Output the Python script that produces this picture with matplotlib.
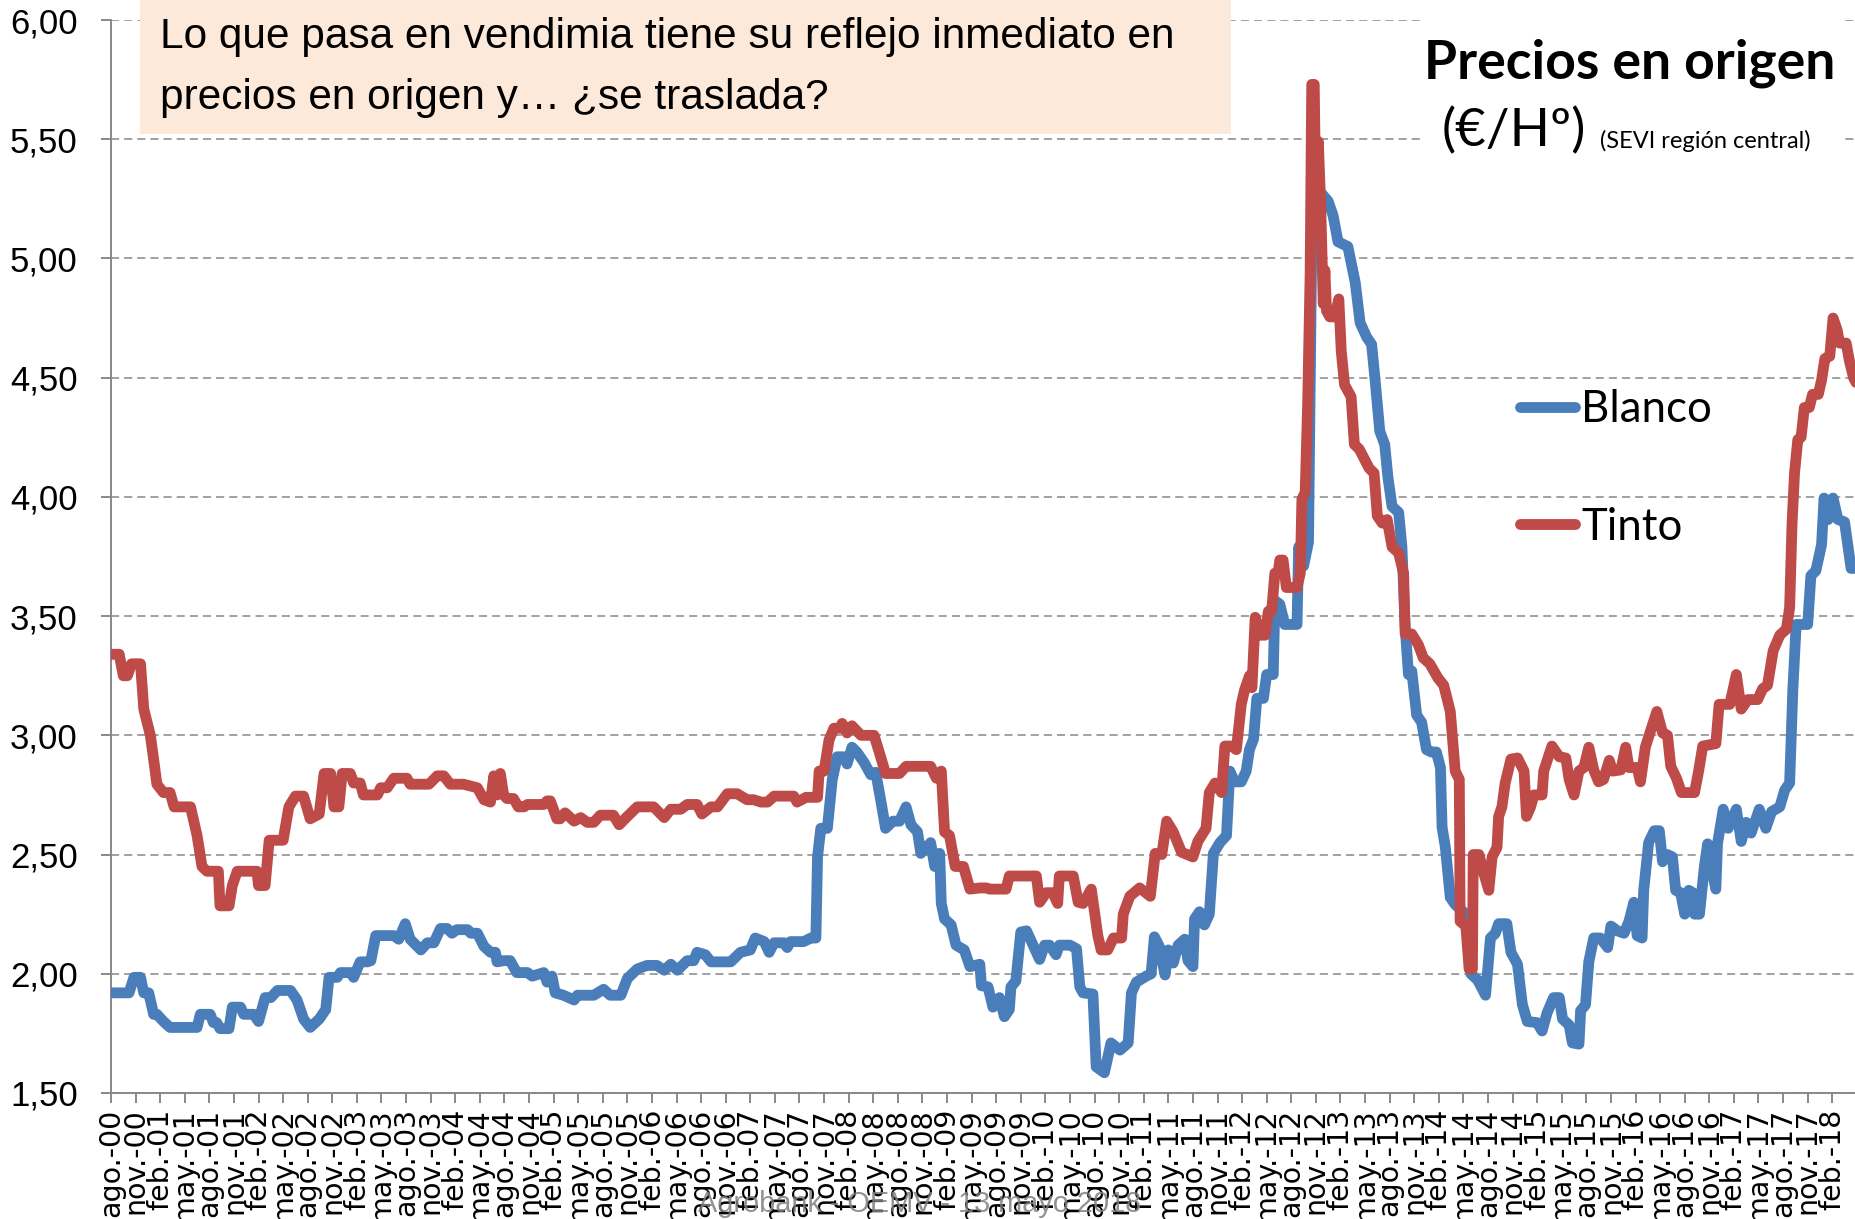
import matplotlib

matplotlib.use("Agg")
import matplotlib.pyplot as plt
from matplotlib.patches import Rectangle
from matplotlib.ticker import FuncFormatter

# --------------------------------------------------------------------------
# Datos: meses transcurridos desde ago-2000 y precio en origen (EUR/Hº)
# --------------------------------------------------------------------------
blanco_mes = [
    0, 2.2, 2.8, 3.6, 4, 4.6, 5.2, 5.6, 6.4, 7.2, 10.5, 10.9, 12.1, 12.5, 12.9,
    13.3, 14.4, 14.8, 15.8, 16.2, 17.4, 18, 18.8, 19.5, 20.3, 21.9, 22.7, 23.5,
    24.3, 25.4, 26.2, 26.6, 27.6, 28, 29.2, 29.6, 30.4, 31.3, 31.7, 32.3, 34.5,
    35.1, 35.9, 36.5, 37.8, 38.6, 39.4, 40.2, 41, 41.6, 42.2, 43.5, 43.9, 44.7,
    45.5, 46.3, 46.9, 47.1, 47.9, 48.7, 49.5, 50.8, 51.4, 52.8, 53.2, 53.8,
    54.2, 55.2, 56.5, 56.9, 58.9, 60.1, 60.9, 62.2, 63, 64.2, 65.4, 66.6, 67.5,
    68.3, 69.1, 70.3, 71.1, 71.5, 72.5, 73.2, 75.6, 76.8, 78, 78.6, 79.7, 80.3,
    80.9, 82.1, 82.5, 82.9, 84.5, 85.4, 86, 86.2, 86.6, 87.4, 88, 88.6, 89.4,
    89.8, 90.4, 91, 91.9, 92.7, 93.3, 93.9, 94.5, 95.4, 96.2, 97, 97.6, 98.4,
    98.8, 99.5, 100, 100.5, 101.1, 101.3, 101.7, 102.5, 103.1, 104.1, 104.8,
    106, 106.2, 107, 107.6, 108.4, 109, 109.6, 109.8, 110.4, 111, 111.7, 112.3,
    113.3, 113.9, 114.5, 115.3, 115.7, 117, 117.8, 118.2, 118.6, 119.8, 120.2,
    121.2, 122, 123.1, 124.1, 124.5, 125.1, 126.3, 126.9, 127.3, 127.9, 128.6,
    129, 129.6, 130.2, 131, 131.4, 132, 132.2, 132.8, 133.4, 134, 134.5, 135.3,
    136.1, 136.5, 137.1, 137.9, 138.5, 138.9, 139.4, 139.8, 140.6, 141, 141.8,
    142, 142.6, 143.2, 144.7, 144.9, 145.5, 146.1, 146.5, 146.9, 147.5, 148.5,
    149.1, 149.7, 150.9, 151.8, 152.4, 153.2, 153.8, 154.2, 154.8, 155.4,
    155.8, 156.3, 157.1, 157.5, 157.9, 158.3, 158.7, 159.3, 159.9, 160.5,
    161.1, 161.7, 162.2, 162.4, 162.8, 163.4, 164, 165.3, 165.9, 166.7, 167.1,
    167.7, 168.3, 168.9, 169.3, 170.3, 170.8, 171.6, 172.2, 172.8, 174, 174.6,
    175.2, 176, 176.7, 177.1, 177.9, 178.3, 179.1, 179.3, 179.9, 180.3, 180.9,
    181.7, 182.6, 183, 183.8, 184.6, 185.2, 185.8, 186.2, 186.8, 187, 187.6,
    188.3, 188.9, 189.3, 189.9, 190.5, 190.9, 191.5, 192, 192.5, 193, 193.2,
    193.8, 194.4, 194.8, 195.2, 195.8, 196, 196.7, 197.3, 198.3, 198.9, 199.5,
    200.1, 201.1, 201.9, 202.6, 203.6, 204.2, 204.8, 205.2, 205.6, 207, 207.4,
    208, 208.7, 209, 209.5, 210.1, 210.7, 211.5, 212.3, 212.9,
]
blanco_precio = [
    1.92, 1.92, 1.985, 1.985, 1.92, 1.92, 1.83, 1.83, 1.80, 1.775, 1.775, 1.83,
    1.83, 1.795, 1.795, 1.77, 1.77, 1.86, 1.86, 1.83, 1.83, 1.80, 1.90, 1.90,
    1.93, 1.93, 1.89, 1.81, 1.775, 1.81, 1.85, 1.985, 1.985, 2.005, 2.005,
    1.985, 2.05, 2.05, 2.055, 2.16, 2.16, 2.145, 2.21, 2.145, 2.10, 2.13, 2.13,
    2.19, 2.19, 2.17, 2.185, 2.185, 2.17, 2.17, 2.115, 2.09, 2.09, 2.05, 2.055,
    2.055, 2.005, 2.005, 1.99, 2.005, 1.965, 1.99, 1.92, 1.91, 1.89, 1.91,
    1.91, 1.935, 1.91, 1.91, 1.98, 2.02, 2.035, 2.035, 2.015, 2.04, 2.015,
    2.055, 2.055, 2.09, 2.08, 2.05, 2.05, 2.09, 2.10, 2.15, 2.135, 2.09, 2.13,
    2.13, 2.11, 2.135, 2.135, 2.15, 2.15, 2.49, 2.61, 2.61, 2.815, 2.91, 2.91,
    2.88, 2.95, 2.93, 2.885, 2.835, 2.845, 2.73, 2.61, 2.64, 2.64, 2.70, 2.625,
    2.595, 2.505, 2.53, 2.55, 2.45, 2.505, 2.295, 2.23, 2.205, 2.12, 2.10,
    2.03, 2.04, 1.95, 1.945, 1.86, 1.90, 1.82, 1.85, 1.945, 1.97, 2.175, 2.18,
    2.135, 2.06, 2.12, 2.12, 2.08, 2.12, 2.12, 2.105, 1.945, 1.92, 1.915, 1.61,
    1.585, 1.71, 1.68, 1.71, 1.92, 1.965, 1.99, 2.00, 2.155, 2.115, 1.995,
    2.10, 2.045, 2.12, 2.145, 2.055, 2.03, 2.23, 2.26, 2.205, 2.25, 2.505,
    2.55, 2.58, 2.85, 2.805, 2.805, 2.85, 2.94, 2.985, 3.155, 3.155, 3.255,
    3.255, 3.565, 3.55, 3.465, 3.465, 3.79, 3.71, 3.81, 5.07, 5.21, 5.28, 5.24,
    5.18, 5.07, 5.05, 4.90, 4.73, 4.67, 4.64, 4.50, 4.275, 4.22, 4.08, 3.96,
    3.935, 3.79, 3.45, 3.255, 3.27, 3.085, 3.055, 2.94, 2.93, 2.93, 2.865,
    2.615, 2.53, 2.32, 2.29, 2.25, 2.00, 1.975, 1.95, 1.91, 2.15, 2.17, 2.21,
    2.21, 2.09, 2.04, 1.87, 1.80, 1.795, 1.76, 1.835, 1.90, 1.90, 1.81, 1.785,
    1.71, 1.705, 1.845, 1.87, 2.05, 2.15, 2.15, 2.11, 2.20, 2.18, 2.17, 2.22,
    2.30, 2.16, 2.15, 2.35, 2.55, 2.60, 2.60, 2.47, 2.50, 2.49, 2.35, 2.34,
    2.25, 2.35, 2.34, 2.25, 2.25, 2.45, 2.545, 2.455, 2.355, 2.545, 2.69, 2.61,
    2.69, 2.555, 2.635, 2.59, 2.69, 2.61, 2.68, 2.70, 2.77, 2.80, 3.195, 3.465,
    3.465, 3.67, 3.69, 3.80, 3.995, 3.905, 3.995, 3.905, 3.895, 3.70, 3.70,
]

tinto_mes = [
    0, 1, 1.5, 2, 2.5, 3.6, 4, 4.8, 5.2, 5.6, 6.4, 7.2, 7.7, 9.7, 10.5, 11.1,
    11.7, 13.1, 13.3, 14.4, 14.8, 15.4, 17.8, 18, 18.8, 19.3, 21, 21.7, 22.5,
    23.5, 24.3, 25.4, 26, 26.8, 27.2, 27.8, 28.2, 29.2, 29.6, 30.4, 30.8, 32.5,
    32.9, 33.7, 34.5, 36.1, 36.5, 38.8, 39.8, 40.6, 41.4, 43, 44.7, 45.5, 46.3,
    46.7, 47.1, 47.5, 47.9, 48.3, 49.1, 49.7, 50.4, 50.8, 52.8, 53.2, 53.6,
    54.4, 54.8, 55.4, 56.5, 57.3, 58.1, 58.9, 59.7, 61.3, 62, 63, 64.2, 66.2,
    67.5, 68.3, 69.5, 70.3, 71.5, 72.1, 73.2, 74, 75.2, 76.4, 77.6, 78.4, 79.3,
    80.1, 80.9, 83.3, 83.7, 84.8, 86.2, 86.4, 87, 87.6, 88.2, 89, 89.2, 89.8,
    90.4, 91.5, 93.1, 93.9, 94.5, 96.2, 97, 100, 100.7, 101.3, 101.7, 102.3,
    103, 104, 104.8, 106, 106.8, 107.2, 109.2, 109.6, 112.9, 113.3, 114.1,
    114.9, 115.5, 115.7, 117.4, 118, 118.6, 119.6, 120.4, 120.8, 121.6, 122.3,
    123.3, 123.5, 124.3, 125.5, 126.8, 127.4, 128.2, 128.8, 129.6, 130.6, 132,
    132.6, 133.6, 134, 134.7, 135.5, 135.9, 136.7, 137.3, 137.9, 138.3, 138.9,
    139.2, 139.6, 140.2, 140.8, 141.2, 141.6, 142, 142.4, 142.6, 143, 143.4,
    144.7, 145.1, 145.3, 145.7, 146, 146.3, 146.5, 146.8, 147, 147.3, 147.6,
    147.9, 148.1, 148.3, 148.7, 149.3, 149.8, 150.1, 150.5, 151.3, 151.7,
    152.3, 152.9, 153.5, 154.1, 154.5, 155.1, 155.7, 156.3, 157.1, 157.7,
    157.9, 158.7, 159.5, 160.1, 160.9, 161.9, 162.6, 163.4, 164, 164.5, 164.6,
    165.3, 165.7, 166.1, 166.2, 166.9, 167.5, 168.1, 168.5, 169.1, 169.3,
    169.7, 170.1, 170.8, 171.6, 172.4, 172.7, 173.2, 173.6, 174.6, 174.8,
    175.8, 176.7, 177.5, 177.9, 178.5, 179.1, 179.7, 180.3, 180.9, 181.5,
    182.1, 182.8, 183.2, 184.2, 184.8, 185.2, 186.2, 186.6, 187.2, 187.8,
    188.6, 189.3, 189.9, 190.3, 191, 191.6, 193.2, 193.7, 194.2, 195.8, 196.2,
    197.5, 198.3, 198.9, 199.7, 200.9, 201.5, 202.1, 202.8, 203.6, 204.4,
    204.8, 205.1, 205.4, 205.8, 206.2, 206.6, 207.2, 207.6, 208.3, 208.7,
    209.1, 209.7, 210.1, 210.6, 210.9, 211.7, 212.1, 212.6, 212.9,
]
tinto_precio = [
    3.34, 3.34, 3.25, 3.25, 3.30, 3.30, 3.11, 3.00, 2.90, 2.795, 2.76, 2.76,
    2.70, 2.70, 2.58, 2.45, 2.43, 2.43, 2.285, 2.285, 2.37, 2.43, 2.43, 2.37,
    2.37, 2.56, 2.56, 2.70, 2.745, 2.745, 2.65, 2.67, 2.84, 2.84, 2.70, 2.70,
    2.84, 2.84, 2.80, 2.80, 2.75, 2.75, 2.78, 2.78, 2.82, 2.82, 2.795, 2.795,
    2.83, 2.83, 2.795, 2.795, 2.78, 2.73, 2.72, 2.83, 2.75, 2.84, 2.75, 2.735,
    2.735, 2.70, 2.70, 2.71, 2.71, 2.725, 2.725, 2.65, 2.65, 2.675, 2.64,
    2.655, 2.635, 2.635, 2.665, 2.665, 2.625, 2.66, 2.70, 2.70, 2.655, 2.69,
    2.69, 2.71, 2.71, 2.67, 2.70, 2.70, 2.755, 2.755, 2.73, 2.73, 2.72, 2.72,
    2.745, 2.745, 2.72, 2.74, 2.74, 2.85, 2.85, 2.98, 3.03, 3.03, 3.05, 3.01,
    3.04, 3.00, 3.00, 2.91, 2.84, 2.84, 2.87, 2.87, 2.82, 2.85, 2.595, 2.58,
    2.45, 2.45, 2.355, 2.36, 2.36, 2.355, 2.355, 2.41, 2.41, 2.30, 2.34, 2.34,
    2.295, 2.41, 2.41, 2.30, 2.295, 2.355, 2.16, 2.10, 2.10, 2.15, 2.15, 2.25,
    2.325, 2.36, 2.325, 2.505, 2.50, 2.64, 2.595, 2.51, 2.49, 2.555, 2.61,
    2.76, 2.80, 2.76, 2.955, 2.955, 2.94, 3.13, 3.19, 3.25, 3.20, 3.495, 3.42,
    3.42, 3.52, 3.52, 3.68, 3.68, 3.735, 3.735, 3.62, 3.62, 3.68, 3.99, 4.02,
    4.39, 4.93, 5.73, 5.73, 5.21, 5.49, 5.21, 4.81, 4.95, 4.78, 4.755, 4.755,
    4.83, 4.61, 4.47, 4.42, 4.22, 4.20, 4.16, 4.12, 4.10, 3.92, 3.89, 3.905,
    3.79, 3.765, 3.68, 3.425, 3.425, 3.38, 3.325, 3.30, 3.24, 3.21, 3.10, 2.85,
    2.815, 2.22, 2.20, 2.02, 2.02, 2.50, 2.50, 2.42, 2.35, 2.49, 2.53, 2.66,
    2.70, 2.80, 2.90, 2.905, 2.85, 2.66, 2.70, 2.75, 2.75, 2.85, 2.955, 2.91,
    2.905, 2.815, 2.75, 2.85, 2.865, 2.95, 2.855, 2.805, 2.815, 2.895, 2.85,
    2.855, 2.95, 2.865, 2.865, 2.805, 2.95, 3.015, 3.10, 3.01, 3.00, 2.87,
    2.82, 2.76, 2.76, 2.85, 2.955, 2.965, 3.13, 3.13, 3.255, 3.11, 3.15, 3.15,
    3.195, 3.21, 3.355, 3.42, 3.445, 3.535, 3.89, 4.10, 4.24, 4.25, 4.375,
    4.375, 4.43, 4.43, 4.49, 4.58, 4.59, 4.75, 4.70, 4.645, 4.645, 4.57, 4.50,
    4.48,
]

meses_abrev = ["ene.", "feb.", "mar.", "abr.", "may.", "jun.",
               "jul.", "ago.", "sep.", "oct.", "nov.", "dic."]
ticks_mes = list(range(0, 211, 3))          # cada trimestre desde ago-00
etiquetas_x = [f"{meses_abrev[(7 + m) % 12]}-{(7 + m) // 12:02d}" for m in ticks_mes]
ticks_y = [1.5, 2.0, 2.5, 3.0, 3.5, 4.0, 4.5, 5.0, 5.5, 6.0]

titulo_caja = ["Lo que pasa en vendimia tiene su reflejo inmediato en",
               "precios en origen y\u2026 \u00bfse traslada?"]

AZUL = "#4A7EBB"
ROJO = "#BE4B48"
GRIS = "#898989"

W, H = 1856, 1219

# --------------------------------------------------------------------------
# Figura
# --------------------------------------------------------------------------
fig = plt.figure(figsize=(W / 100, H / 100), dpi=100)
ax = fig.add_axes([111 / W, 1 - 1093 / H, (W - 111) / W, (1093 - 20) / H])

estilo = dict(lw=7.8, solid_joinstyle="round", solid_capstyle="round")
ax.plot(blanco_mes, blanco_precio, color=AZUL, label="Blanco", zorder=3, **estilo)
ax.plot(tinto_mes, tinto_precio, color=ROJO, label="Tinto", zorder=4, **estilo)

ax.set_xlim(0, 212.9)
ax.set_ylim(1.5, 6.0)
ax.set_yticks(ticks_y)
ax.yaxis.set_major_formatter(FuncFormatter(lambda v, p: f"{v:.2f}".replace(".", ",")))
ax.set_xticks(ticks_mes)
ax.set_xticklabels(etiquetas_x, rotation=90, fontfamily="DejaVu Sans", fontsize=20.5)

ax.grid(axis="y", color="#878787", lw=1.1, ls=(0, (5.3, 3.3)))
ax.set_axisbelow(True)
for lado in ("top", "right"):
    ax.spines[lado].set_visible(False)
for lado in ("left", "bottom"):
    ax.spines[lado].set_color(GRIS)
    ax.spines[lado].set_linewidth(1.4)
ax.tick_params(axis="both", direction="out", length=7, width=1.4, color=GRIS)
ax.tick_params(axis="x", pad=4)
ax.tick_params(axis="y", pad=17, labelsize=25, labelfontfamily="Liberation Sans")

# leyenda
ax.legend(loc="upper left", bbox_to_anchor=(1520 / W, 1 - 389 / H),
          bbox_transform=fig.transFigure, frameon=False,
          prop={"family": "Lato", "size": 31.5}, handlelength=1.25,
          handletextpad=0.15, labelspacing=1.75, borderpad=0, borderaxespad=0)

# caja de texto superior
fig.add_artist(Rectangle((140 / W, 1 - 134 / H), 1091 / W, 134 / H,
                         transform=fig.transFigure, facecolor="#FDE9D9",
                         edgecolor="none", zorder=5))
fig.text(160 / W, 1 - 48 / H, titulo_caja[0], fontsize=30.5,
         family="Liberation Sans", va="baseline", zorder=6)
fig.text(160 / W, 1 - 109 / H, titulo_caja[1], fontsize=30.5,
         family="Liberation Sans", va="baseline", zorder=6)

# titulo a la derecha
fig.add_artist(Rectangle((1420 / W, 1 - 165 / H), 425 / W, 165 / H,
                         transform=fig.transFigure, facecolor="white",
                         edgecolor="none", zorder=5))
fig.text(1835 / W, 1 - 79 / H, "Precios en origen", fontsize=38.5,
         fontweight="bold", family="Lato", ha="right", va="baseline", zorder=6)
fig.text(1442 / W, 1 - 146 / H, "(\u20ac/H\u00ba)", fontsize=38,
         family=["Lato", "DejaVu Sans"], ha="left", va="baseline", zorder=6)
fig.text(1600 / W, 1 - 148 / H, "(SEVI regi\u00f3n central)", fontsize=17,
         family="Lato", ha="left", va="baseline", zorder=6)

# marca de agua
fig.text(920 / W, 1 - 1204 / H, "Agrobank - OEMV - 13 mayo 2018", fontsize=20.8,
         family="Liberation Sans", color="#7F7F7F", alpha=0.85,
         ha="center", va="center", zorder=10)

fig.savefig("out.png", dpi=100)
